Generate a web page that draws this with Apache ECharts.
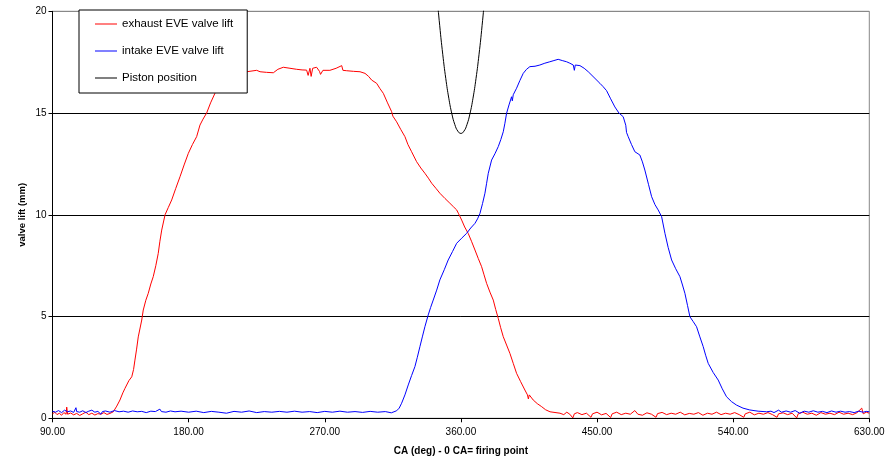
<!DOCTYPE html>
<html>
<head>
<meta charset="utf-8">
<script src="https://cdn.jsdelivr.net/npm/echarts@6/dist/echarts.min.js"></script>
<style>
html,body{margin:0;padding:0;background:#fff;}
#chart{width:888px;height:460px;}
</style>
</head>
<body>
<div id="chart"></div>
<script>
// ---- data ----
var xTicks = [90, 180, 270, 360, 450, 540, 630];
var yTicks = [0, 5, 10, 15, 20];
var seriesNames = ['exhaust EVE valve lift', 'intake EVE valve lift', 'Piston position'];

var exhaustLift = [
  [90,0.22],[91.5,0.3],[93,0.18],[94.5,0.25],[96,0.15],[97.5,0.28],[99,0.2],[99.4,0.55],[100,0.2],[102,0.26],
  [104,0.17],[106,0.24],[108,0.14],[110,0.22],[112,0.3],[114,0.18],[116,0.25],[118,0.16],[120,0.23],[122,0.2],
  [124,0.28],[126,0.19],[128,0.24],[130.2,0.32],
  [132.5,0.6],[134.6,0.9],[136.5,1.25],[137.9,1.47],[140.5,1.85],[142.4,2.04],[143.6,2.4],[144.5,2.86],[145.6,3.4],
  [146.7,4.0],[149.0,4.83],[150.0,5.32],[151.7,5.8],[153.3,6.14],[155.0,6.6],[156.6,6.96],[158.3,7.5],[159.9,8.1],
  [161.0,8.7],[162.2,9.25],[164.4,10.0],[166.5,10.35],[168.8,10.73],[171.5,11.3],[174.3,11.87],[177.0,12.45],
  [179.8,13.02],[182.5,13.45],[185.3,13.84],[187.5,14.41],[189.5,14.7],[191.9,15.0],[194.5,15.5],[197.4,15.97],
  [200.5,16.25],[204.0,16.5],[207.5,16.7],[210.6,16.85],[214.5,16.97],[218.4,17.03],[225.0,17.1],[227.2,17.03],
  [231.5,17.0],[236.0,16.98],[239.0,17.15],[242.6,17.25],[247.0,17.2],[251.4,17.15],[255.0,17.12],[258.0,17.11],
  [259.0,16.85],[260.2,17.2],[261.0,16.8],[262.0,17.2],[264.6,17.25],[266.5,17.05],[267.2,16.9],[268.8,17.1],
  [273.4,17.1],[277.5,17.2],[281.2,17.33],[282.0,17.1],[284.5,17.08],[289.0,17.05],[293.3,17.03],[296.6,16.95],
  [299.0,16.8],[301.0,16.62],[304.3,16.46],[306.5,16.2],[308.7,15.97],[311.5,15.5],[314.2,15.07],[315.0,14.85],
  [317.5,14.57],[320.2,14.2],[323.0,13.84],[325.0,13.45],[327.4,13.1],[330.7,12.61],[333.5,12.3],[336.2,12.04],
  [338.5,11.8],[340.7,11.55],[343.5,11.3],[346.1,11.06],[349.5,10.8],[352.7,10.57],[355.0,10.4],[357.2,10.24],
  [358.5,10.05],[360.5,9.74],[362.5,9.4],[364.8,9.09],[367.0,8.7],[369.3,8.27],[371.5,7.85],[373.7,7.45],
  [375.3,7.05],[377.0,6.63],[379.2,6.2],[381.4,5.81],[383.0,5.35],[384.7,4.91],[386.3,4.45],[388.0,4.01],
  [390.2,3.6],[392.4,3.19],[394.6,2.7],[396.8,2.21],[399.5,1.8],[402.3,1.39],[404.0,1.15],[404.6,0.95],[405.2,1.15],
  [407.8,0.9],[410.5,0.72],[413.4,0.57],[416.0,0.42],[418.9,0.32],
  [425.5,0.25],[428,0.18],[430,0.3],[432,0.2],[434,0.02],[435,0.22],[437,0.28],[440,0.18],[443,0.25],[446,0.05],
  [447,0.22],[450,0.3],[453,0.17],[456,0.24],[459,0.04],[460,0.22],[463,0.3],[466,0.18],[469,0.25],[472,0.2],
  [475,0.38],[477,0.2],[480,0.15],[483,0.27],[486,0.2],[489,0.05],[490,0.23],[493,0.29],[496,0.18],[499,0.25],
  [502,0.2],[505,0.3],[508,0.17],[511,0.24],[514,0.2],[517,0.28],[520,0.15],[523,0.25],[526,0.2],[529,0.3],
  [532,0.18],[535,0.25],[538,0.2],[541,0.28],[544,0.18],[547,0.05],[548,0.22],[551,0.3],[554,0.17],[557,0.25],
  [560,0.2],[563,0.28],[566,0.18],[569,0.05],[570,0.22],[573,0.27],[576,0.18],[579,0.25],[582,0.02],[583,0.22],
  [586,0.3],[589,0.2],[592,0.25],[595,0.15],[598,0.28],[601,0.2],[604,0.25],[607,0.18],[610,0.3],[613,0.2],
  [616,0.25],[619,0.18],[622,0.28],[625,0.5],[626,0.22],[628,0.3],[630,0.25]
];

var intakeLift = [
  [90,0.35],[92,0.3],[94,0.38],[96,0.28],[98,0.4],[100,0.32],[102,0.36],[104,0.29],[105.5,0.52],[106,0.33],
  [108,0.3],[110,0.37],[112,0.28],[114,0.35],[116,0.4],[118,0.3],[120,0.34],[122,0.2],[123,0.33],[125,0.36],
  [128,0.3],[131,0.38],[134,0.32],[137,0.35],[140,0.3],[143,0.36],[146,0.32],[149,0.34],[152,0.28],[155,0.35],
  [158,0.33],[161,0.45],[162,0.33],[165,0.3],[168,0.36],[171,0.32],[175,0.35],[180,0.3],[185,0.35],[190,0.28],
  [195,0.34],[200,0.3],[205,0.25],[210,0.34],[215,0.3],[220,0.36],[225,0.28],[230,0.33],[235,0.3],[240,0.34],
  [245,0.3],[250,0.35],[255,0.3],[260,0.33],[265,0.28],[270,0.34],[275,0.3],[280,0.35],[285,0.3],[290,0.33],
  [295,0.29],[300,0.34],[305,0.3],[310,0.33],[314,0.27],[317.5,0.37],
  [319.2,0.5],[320.8,0.74],[323.0,1.15],[325.2,1.64],[327.4,2.1],[329.6,2.54],[331.2,3.0],[332.9,3.52],[334.5,4.0],
  [336.2,4.5],[338.4,5.08],[340.0,5.45],[341.7,5.81],[344.0,6.3],[346.1,6.8],[349.0,7.3],[351.6,7.78],[354.5,8.2],
  [357.2,8.6],[360.5,8.85],[363.8,9.09],[366.5,9.35],[369.3,9.58],[371.0,9.8],[372.6,10.07],[374.3,10.55],
  [375.9,11.06],[377.0,11.55],[378.1,12.04],[380.3,12.69],[382.5,13.0],[384.7,13.35],[386.4,13.7],[388.0,14.08],
  [389.1,14.5],[390.2,14.99],[391.8,15.4],[393.5,15.8],[394.0,15.6],[394.6,15.9],[396.8,16.22],[399.0,16.6],
  [401.2,16.95],[403.4,17.15],[405.6,17.28],[409.0,17.3],[412.2,17.36],[415.5,17.45],[418.8,17.52],[421.5,17.58],
  [424.3,17.64],[427.0,17.58],[429.9,17.52],[432.0,17.45],[434.3,17.36],[435.0,17.1],[435.6,17.36],[438.7,17.33],
  [441.5,17.2],[444.2,17.03],[448.0,16.75],[451.9,16.46],[454.0,16.3],[456.3,16.1],[459.0,15.7],[461.8,15.3],
  [464.5,15.0],[467.3,14.82],[469.0,14.4],[469.5,14.05],[470.6,13.84],[472.8,13.45],[475.0,13.1],[478.3,12.94],
  [480.0,12.6],[481.6,12.2],[484.0,11.5],[486.1,10.89],[488.3,10.5],[490.4,10.24],[492.7,9.91],[494.9,9.09],
  [497.0,8.4],[499.3,7.78],[502.0,7.35],[504.8,6.96],[506.5,6.55],[508.1,6.14],[509.8,5.55],[511.4,4.99],
  [513.6,4.75],[515.8,4.5],[518.0,4.0],[520.2,3.52],[521.8,3.1],[523.5,2.7],[526.8,2.25],[530.1,1.88],
  [532.8,1.45],[535.6,1.06],[538.9,0.82],[542.2,0.65],[546.5,0.5],[551.0,0.41],[556.5,0.35],[562.1,0.32],
  [565,0.35],[567,0.28],[570,0.4],[572,0.3],[575,0.36],[578,0.3],[581,0.38],[584,0.25],[587,0.35],[590,0.3],
  [593,0.37],[596,0.3],[599,0.34],[602,0.28],[605,0.36],[608,0.3],[611,0.35],[614,0.3],[617,0.33],[620,0.28],
  [623,0.35],[626,0.3],[628,0.34],[630,0.32]
];

var pistonPosition = [
  [338,27.0],[340,24.8],[342,22.75],[344,20.91],[346,19.29],[348,17.89],[350,16.7],[352,15.73],[354,14.97],
  [356,14.43],[358,14.11],[360,14.0],[362,14.11],[364,14.43],[366,14.97],[368,15.73],[370,16.7],[372,17.89],
  [374,19.29],[376,20.91],[378,22.75],[380,24.8],[382,27.0]
];

// ---- chart ----
var chart = echarts.init(document.getElementById('chart'), null, {renderer: 'canvas'});
var FONT = '"Liberation Sans", Arial, sans-serif';

chart.setOption({
  animation: false,
  backgroundColor: '#ffffff',
  grid: {
    left: 52.5, right: 18.7, top: 11.3, bottom: 41.7,
    outerBoundsMode: 'none', containLabel: false,
    show: true, borderColor: '#888888', borderWidth: 1, backgroundColor: '#ffffff'
  },
  legend: {
    data: seriesNames,
    orient: 'vertical',
    left: 79, top: 10,
    backgroundColor: '#ffffff',
    borderColor: '#000000', borderWidth: 1,
    padding: [7, 14, 8, 16],
    icon: 'rect',
    itemWidth: 22, itemHeight: 1, itemGap: 13,
    textStyle: {color: '#000', fontSize: 11.5, fontFamily: FONT, padding: [0, 0, 0, 0], lineHeight: 14},
    z: 10
  },
  xAxis: {
    type: 'value',
    min: xTicks[0], max: xTicks[xTicks.length - 1], interval: xTicks[1] - xTicks[0],
    name: 'CA (deg) - 0 CA= firing point',
    nameLocation: 'middle', nameGap: 28, nameMoveOverlap: false,
    nameTextStyle: {color: '#000', fontWeight: 'bold', fontSize: 10, fontFamily: FONT},
    axisLine: {onZero: false, lineStyle: {color: '#000', width: 1}},
    axisTick: {show: true, length: 4, lineStyle: {color: '#000'}},
    axisLabel: {color: '#000', fontSize: 10, fontFamily: FONT, margin: 9,
      formatter: function (v) { return v.toFixed(2); }},
    splitLine: {show: false}
  },
  yAxis: {
    type: 'value',
    min: yTicks[0], max: yTicks[yTicks.length - 1], interval: yTicks[1] - yTicks[0],
    name: 'valve lift (mm)',
    nameLocation: 'middle', nameGap: 25, nameMoveOverlap: false,
    nameTextStyle: {color: '#000', fontWeight: 'bold', fontSize: 9.5, fontFamily: FONT},
    axisLine: {show: true, lineStyle: {color: '#000', width: 1}},
    axisTick: {show: true, length: 4, lineStyle: {color: '#000'}},
    axisLabel: {color: '#000', fontSize: 10, fontFamily: FONT, margin: 6},
    splitLine: {show: true, lineStyle: {color: ['#000', '#000', '#000', '#000', '#888'], width: 1}}
  },
  series: [
    {name: seriesNames[0], type: 'line', data: exhaustLift, symbol: 'none', clip: true,
      lineStyle: {color: '#ff0000', width: 1}, itemStyle: {color: '#ff0000'}},
    {name: seriesNames[1], type: 'line', data: intakeLift, symbol: 'none', clip: true,
      lineStyle: {color: '#0000ff', width: 1}, itemStyle: {color: '#0000ff'}},
    {name: seriesNames[2], type: 'line', data: pistonPosition, symbol: 'none', clip: true, smooth: true,
      lineStyle: {color: '#000000', width: 1}, itemStyle: {color: '#000000'}}
  ]
});
</script>
</body>
</html>
